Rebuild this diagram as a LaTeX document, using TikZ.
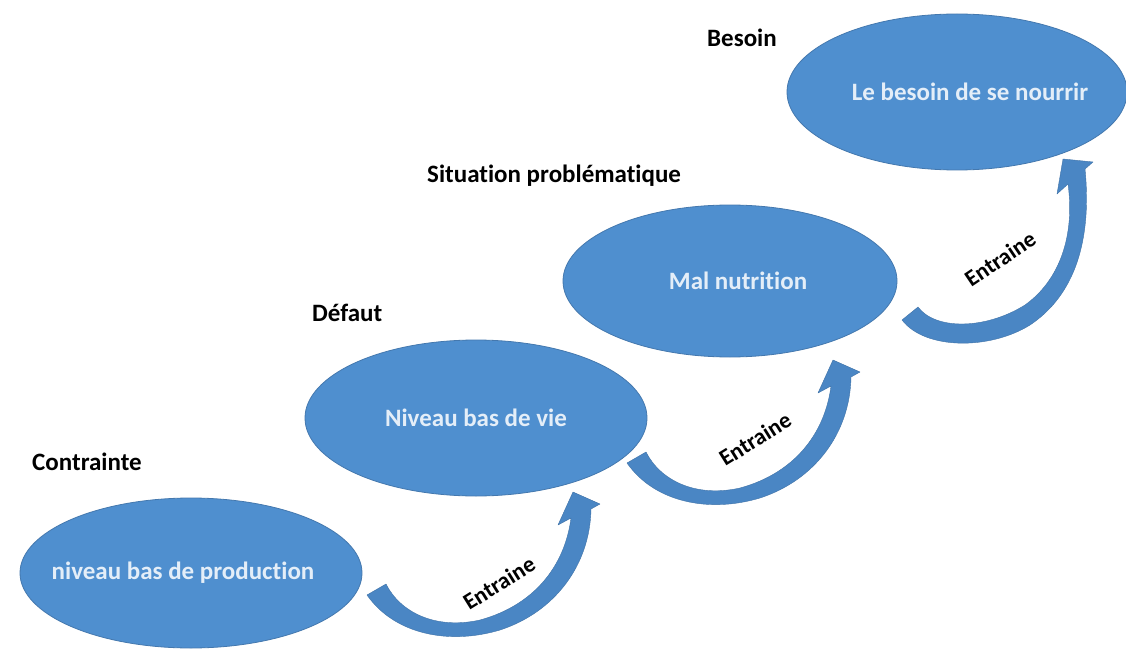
\documentclass[tikz,border=0pt]{standalone}
\usepackage{fontspec}
\setmainfont{Carlito}[Ligatures=NoCommon]
\usetikzlibrary{shapes.geometric}
\definecolor{bubble}{HTML}{4F8FCF}
\definecolor{bubbleedge}{HTML}{4478AE}
\definecolor{arrowblue}{HTML}{4A86C4}
\definecolor{softwhite}{HTML}{E4EEF8}
% text set in a zero-width box so the ellipse keeps its given size
\newcommand{\inbubble}[2][0pt]{\makebox[0pt]{\hspace*{#1}#2}}
\tikzset{
  bubblenode/.style={ellipse, fill=bubble, draw=bubbleedge, line width=0.8pt,
    inner sep=0pt, text=softwhite, font=\bfseries\fontsize{25}{28}\selectfont},
  stagelabel/.style={anchor=west, inner sep=0pt, text=black,
    font=\bfseries\fontsize{25}{28}\selectfont},
  linklabel/.style={inner sep=0pt, text=black, font=\bfseries\fontsize{23}{26}\selectfont},
  curvedarrow/.style={fill=arrowblue, draw=arrowblue!85!black, line width=0.4pt, line join=round}
}
\begin{document}
\begin{tikzpicture}[x=1pt, y=-1pt]
  \useasboundingbox (0,0) rectangle (1126,655);
  \fill[white] (0,0) rectangle (1126,655);

  % the four stages
  \node[bubblenode, minimum width=342pt, minimum height=150pt] (e1) at (191,573) {\inbubble[-16pt]{niveau bas de production}};
  \node[bubblenode, minimum width=342pt, minimum height=156pt] (e2) at (476,418) {\inbubble{Niveau bas de vie}};
  \node[bubblenode, minimum width=334pt, minimum height=152pt] (e3) at (730,281) {\inbubble[16pt]{Mal nutrition}};
  \node[bubblenode, minimum width=340pt, minimum height=156pt] (e4) at (957,92) {\inbubble[26pt]{Le besoin de se nourrir}};

  % stage titles
  \node[stagelabel] (l1) at (32,462) {Contrainte};
  \node[stagelabel] (l2) at (312,313) {Défaut};
  \node[stagelabel] (l3) at (427,176) {Situation problématique};
  \node[stagelabel] (l4) at (707,38) {Besoin};

  % curved block arrows between stages
  \coordinate (a1) at (0,0);
  \coordinate (a2) at (260,-132);
  \foreach \s in {a1,a2}{
    \fill[curvedarrow, shift={(\s)}]
      (367,595) .. controls (395,635) and (450,645) .. (500,630)
      .. controls (555,612) and (590,565) .. (591,509)
      -- (600,504) -- (573,492) -- (558,525) -- (571,518)
      .. controls (565,565) and (535,605) .. (480,620)
      .. controls (435,630) and (400,612) .. (386,584) -- cycle;
  }
  \fill[curvedarrow]
    (902,320) .. controls (925,350) and (990,350) .. (1030,325)
    .. controls (1075,295) and (1092,240) .. (1085,169)
    -- (1093,162) -- (1063,159) -- (1057,194) -- (1068,184)
    .. controls (1075,235) and (1060,280) .. (1025,305)
    .. controls (985,330) and (935,330) .. (918,307) -- cycle;

  % arrow captions
  \node[linklabel, rotate=32] (c1) at (499,583) {Entraine};
  \node[linklabel, rotate=32] (c2) at (755,439) {Entraine};
  \node[linklabel, rotate=34] (c3) at (1000,259) {Entraine};
\end{tikzpicture}
\end{document}
